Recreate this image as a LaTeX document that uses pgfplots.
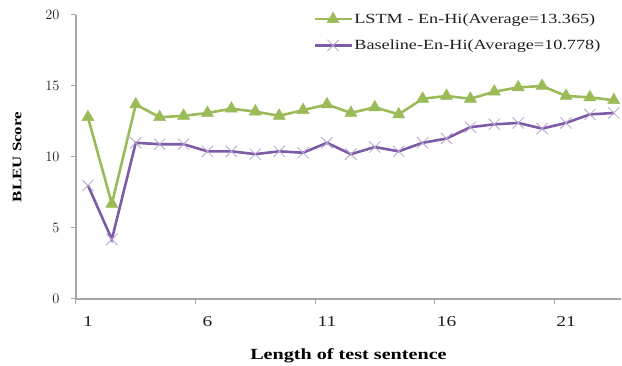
\documentclass[border=0pt]{standalone}
\usepackage{fontspec}
\setmainfont[FakeStretch=1.3]{Liberation Serif}
\usepackage{pgfplots}
\pgfplotsset{compat=1.18}
\definecolor{lgreen}{HTML}{9BBB59}
\definecolor{lpurple}{HTML}{7D5BA6}
\definecolor{lblabel}{HTML}{1F1F1F}
\begin{document}
\begin{tikzpicture}
\begin{axis}[
  scale only axis, width=545pt, height=284pt,
  xmin=0.5, xmax=23.3, ymin=0, ymax=20,
  axis lines*=left,
  axis line style={draw=black!35, line width=1.2pt},
  tick style={draw=black!35, line width=1pt},
  tick align=outside, major tick length=5pt,
  xtick={0.5,5.5,10.5,15.5,20.5}, xticklabels={},
  extra x ticks={1,6,11,16,21},
  extra x tick labels={1,6,11,16,21},
  extra x tick style={major tick length=0pt, tick label style={yshift=-14pt}},
  ytick={0,5,10,15,20},
  yticklabel style={xshift=-8pt},
  tick label style={font=\fontsize{15}{18}\selectfont, text=lblabel},
  xlabel={\textbf{Length of test sentence}},
  ylabel={\textbf{BLEU Score}},
  xlabel style={at={(axis description cs:0.5,-0.2007)}, anchor=center, font=\fontsize{15.5}{18}\selectfont, text=black},
  ylabel style={at={(axis description cs:-0.108,0.5)}, anchor=center, font=\fontsize{13}{16}\selectfont, text=black},
  legend style={at={(axis description cs:0.435,1.011)}, anchor=north west, draw=none, fill=none, inner sep=0pt, row sep=12pt, font=\fontsize{14}{16}\selectfont, text=lblabel, nodes={inner sep=1.5pt}},
  legend cell align=left,
  legend image code/.code={\draw[mark repeat=2,mark phase=2,#1] plot coordinates {(0pt,0pt) (18.5pt,0pt) (37pt,0pt)};},
  clip=false,
]
\addplot[color=lgreen, line width=2.6pt, mark=triangle*, mark size=7pt, mark options={solid, line width=0.5pt, fill=lgreen, draw=lgreen}]
coordinates {
(1,12.8)(2,6.7)(3,13.7)(4,12.8)(5,12.9)(6,13.1)(7,13.4)(8,13.2)(9,12.9)(10,13.3)(11,13.7)(12,13.1)(13,13.5)(14,13.0)(15,14.1)(16,14.3)(17,14.1)(18,14.6)(19,14.9)(20,15.0)(21,14.3)(22,14.2)(23,14.0)
};
\addlegendentry{LSTM - En-Hi(Average=13.365)}
\addplot[color=lpurple, line width=2.6pt, mark=x, mark size=8pt, mark options={solid, line width=0.8pt, draw=lpurple!55}]
coordinates {
(1,8.0)(2,4.2)(3,11.0)(4,10.9)(5,10.9)(6,10.4)(7,10.4)(8,10.2)(9,10.4)(10,10.3)(11,11.0)(12,10.2)(13,10.7)(14,10.4)(15,11.0)(16,11.3)(17,12.1)(18,12.3)(19,12.4)(20,12.0)(21,12.4)(22,13.0)(23,13.1)
};
\addlegendentry{Baseline-En-Hi(Average=10.778)}
\end{axis}
\pgfresetboundingbox
\path[use as bounding box] (-76pt,-67pt) rectangle (546pt,299pt);
\end{tikzpicture}
\end{document}
